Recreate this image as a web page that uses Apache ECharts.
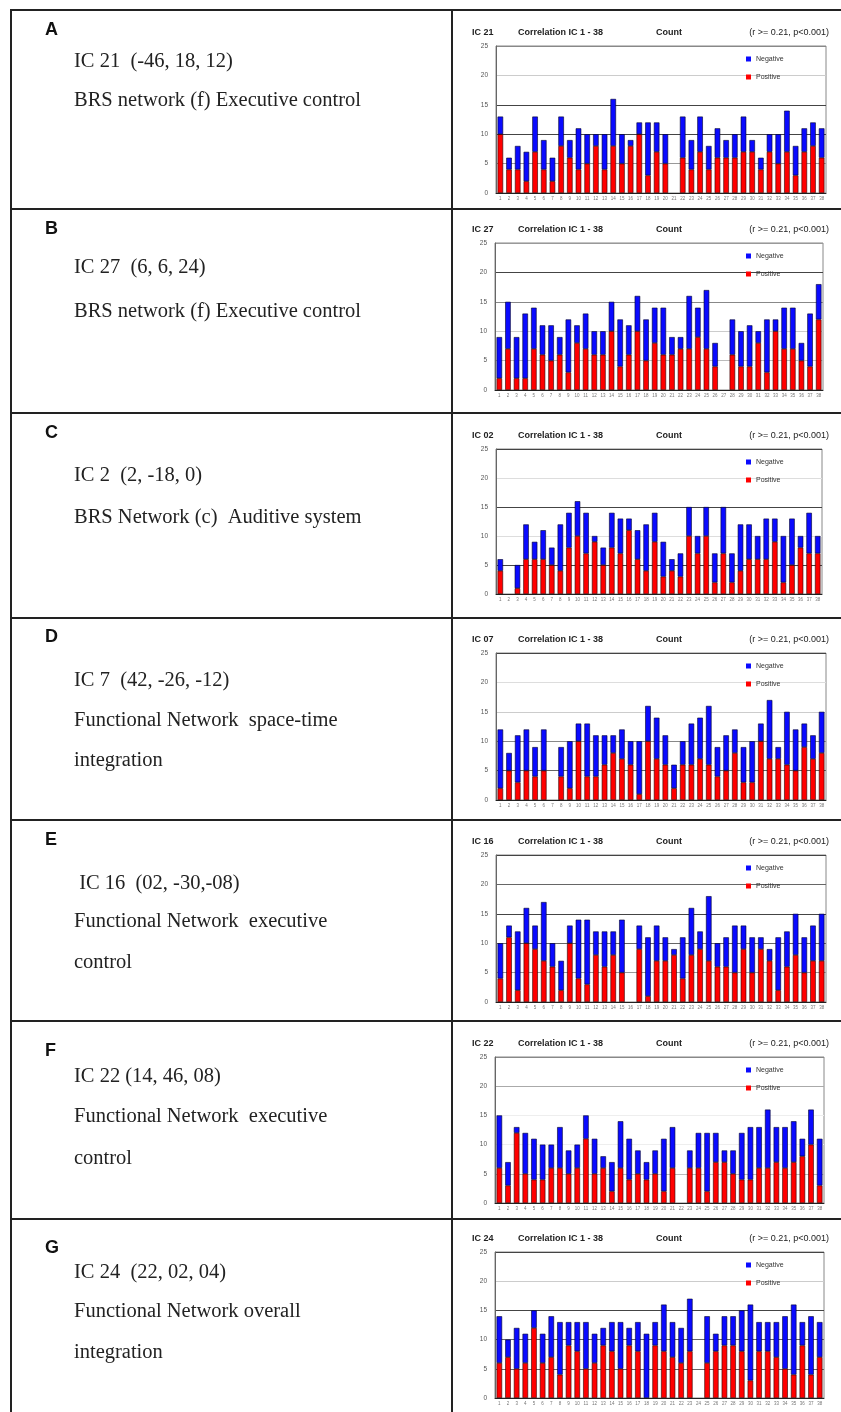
<!DOCTYPE html>
<html><head><meta charset="utf-8">
<script src="https://cdn.jsdelivr.net/npm/echarts@6/dist/echarts.min.js"></script>
<style>html,body{margin:0;padding:0;background:#fff}#c{width:841px;height:1412px}</style>
</head><body><div id="c"></div><script>
// ---------- data ----------
const categories = ['1','2','3','4','5','6','7','8','9','10','11','12','13','14','15','16','17','18','19','20','21','22','23','24','25','26','27','28','29','30','31','32','33','34','35','36','37','38'];
const yTicks = [0, 5, 10, 15, 20, 25];
const panelLetters = ['A','B','C','D','E','F','G'];
const icLabels = ['IC 21','IC 27','IC 02','IC 07','IC 16','IC 22','IC 24'];
const chartTitle = 'Correlation IC 1 - 38';
const countLabel = 'Count';
const thresholdLabel = '(r >= 0.21, p<0.001)';
const legendNames = ['Negative','Positive'];
const panelTexts = [
  ['IC 21  (-46, 18, 12)', 'BRS network (f) Executive control'],
  ['IC 27  (6, 6, 24)', 'BRS network (f) Executive control'],
  ['IC 2  (2, -18, 0)', 'BRS Network (c)  Auditive system'],
  ['IC 7  (42, -26, -12)', 'Functional Network  space-time', 'integration'],
  [' IC 16  (02, -30,-08)', 'Functional Network  executive', 'control'],
  ['IC 22 (14, 46, 08)', 'Functional Network  executive', 'control'],
  ['IC 24  (22, 02, 04)', 'Functional Network overall', 'integration']
];
const posA = [10,4,4,2,7,4,2,8,6,4,5,8,4,8,5,8,10,3,7,5,0,6,4,7,4,6,6,6,7,7,4,7,5,7,3,7,8,6];
const negA = [3,2,4,5,6,5,4,5,3,7,5,2,6,8,5,1,2,9,5,5,0,7,5,6,4,5,3,4,6,2,2,3,5,7,5,4,4,5];
const posB = [2,7,2,2,7,6,5,6,3,8,7,6,6,10,4,6,10,5,8,6,6,7,7,9,7,4,0,6,4,4,8,3,10,7,7,5,4,12];
const negB = [7,8,7,11,7,5,6,3,9,3,6,4,4,5,8,5,6,7,6,8,3,2,9,5,10,4,0,6,6,7,2,9,2,7,7,3,9,6];
const posC = [4,0,1,6,6,6,5,4,8,10,7,9,5,8,7,11,6,4,9,3,4,3,10,7,10,2,7,2,4,6,6,6,9,2,5,8,7,7];
const negC = [2,0,4,6,3,5,3,8,6,6,7,1,3,6,6,2,5,8,5,6,2,4,5,3,5,5,8,5,8,6,4,7,4,8,8,2,7,3];
const posD = [2,5,3,5,4,5,0,4,2,10,4,4,6,8,7,6,1,10,7,6,2,6,6,7,6,4,5,8,3,3,10,7,7,6,5,9,7,8];
const negD = [10,3,8,7,5,7,0,5,8,3,9,7,5,3,5,4,9,6,7,5,4,4,7,7,10,5,6,4,6,7,3,10,2,9,7,4,4,7];
const posE = [4,11,2,10,9,7,6,2,10,4,3,8,6,8,5,0,9,1,7,7,8,4,8,9,7,6,6,5,9,5,9,7,2,6,8,5,7,7];
const negE = [6,2,10,6,4,10,4,5,3,10,11,4,6,4,9,0,4,10,6,4,1,7,8,3,11,4,5,8,4,6,2,2,9,6,7,6,6,8];
const posF = [6,3,12,5,4,4,6,6,5,6,11,5,6,2,6,4,5,4,5,2,6,0,6,6,2,7,7,5,4,4,6,6,7,6,7,8,10,3];
const negF = [9,4,1,7,7,6,4,7,4,4,4,6,2,5,8,7,4,3,4,9,7,0,3,6,10,5,2,4,8,9,7,10,6,7,7,3,6,8];
const posG = [6,7,5,6,12,6,7,4,9,8,5,6,9,8,5,9,8,0,9,8,7,6,8,0,6,8,9,9,8,3,8,8,7,5,4,9,4,7];
const negG = [8,3,7,5,3,5,7,9,4,5,8,5,3,5,8,3,5,11,4,8,6,6,9,0,8,3,5,5,7,13,5,5,6,9,12,4,10,6];

const positives = [posA,posB,posC,posD,posE,posF,posG];
const negatives = [negA,negB,negC,negD,negE,negF,negG];

// ---------- layout ----------
const dividers = [10, 209, 413, 618, 820, 1021, 1219];
const plots = [
  {t:46,  b:193,  l:496, r:826},
  {t:243, b:390,  l:495, r:823},
  {t:449, b:594,  l:496, r:822},
  {t:653, b:800,  l:496, r:826},
  {t:855, b:1002, l:496, r:826},
  {t:1057,b:1203, l:495, r:824},
  {t:1252,b:1398, l:495, r:824}
];
const letterY = [30, 229, 433, 637, 840, 1051, 1248];
const textY = [[62,101],[268,312],[476,518],[681,721,761],[884,922,963],[1077,1117,1159],[1273,1312,1353]];
const splitColors = [
  ['#000','#999','#444','#444','#ccc','#888'],
  ['#000','#bbb','#ccc','#888','#444','#999'],
  ['#000','#444','#ddd','#444','#ddd','#444'],
  ['#000','#666','#888','#ccc','#ddd','#444'],
  ['#000','#999','#666','#444','#666','#444'],
  ['#000','#bbb','#eee','#eee','#aaa','#888'],
  ['#000','#666','#666','#444','#ccc','#444']
];

// empty (zero) bars get no outline so they stay invisible
function barItems(arr) {
  return arr.map(v => v === 0 ? {value: v, itemStyle: {borderWidth: 0}} : v);
}

const grids = [], xAxes = [], yAxes = [], series = [], legends = [], graphics = [];
plots.forEach((p, i) => {
  grids.push({left:p.l, top:p.t, width:p.r-p.l, height:p.b-p.t, show:true, borderColor:'#888', borderWidth:1});
  xAxes.push({type:'category', gridIndex:i, data:categories,
    axisTick:{show:false}, axisLine:{lineStyle:{color:'#222', width:1}},
    axisLabel:{fontSize:4.5, color:'#777', interval:0, margin:3}});
  yAxes.push({type:'value', gridIndex:i, min:yTicks[0], max:yTicks[yTicks.length-1], interval:5,
    axisLine:{show:true, lineStyle:{color:'#666'}}, axisTick:{show:false},
    axisLabel:{fontSize:6.5, color:'#555', margin:8, fontFamily:'Liberation Sans'},
    splitLine:{show:true, lineStyle:{color:splitColors[i], width:1}}});
  series.push({type:'bar', name:'Positive', xAxisIndex:i, yAxisIndex:i, stack:'s'+i, data:barItems(positives[i]),
    barWidth:'64%', itemStyle:{color:'#ff0000', borderColor:'#2a0000', borderWidth:0.6}});
  series.push({type:'bar', name:'Negative', xAxisIndex:i, yAxisIndex:i, stack:'s'+i, data:barItems(negatives[i]),
    barWidth:'64%', itemStyle:{color:'#0a0aff', borderColor:'#00002a', borderWidth:0.6}});
  legends.push({data:legendNames, orient:'vertical', left:746, top:p.t+9.5, itemWidth:5, itemHeight:5,
    itemGap:11, icon:'rect', padding:0, selectedMode:false, itemStyle:{borderWidth:0},
    textStyle:{fontSize:7, color:'#333', fontFamily:'Liberation Sans'}});
  // chart header texts
  const ty = p.t - 13;
  const hdr = [[icLabels[i], 472, 'left', 'bold'], [chartTitle, 518, 'left', 'bold'], [countLabel, 656, 'left', 'bold'], [thresholdLabel, 829, 'right', 'normal']];
  hdr.forEach(h => graphics.push({type:'text', silent:true, style:{text:h[0], x:h[1], y:ty,
    font:h[3] + ' 9px "Liberation Sans"', fill:'#222', align:h[2], textAlign:h[2], verticalAlign:'middle', textVerticalAlign:'middle'}}));
  // left panel texts
  graphics.push({type:'text', silent:true, style:{text:panelLetters[i], x:45, y:letterY[i],
    font:'bold 18px "Liberation Sans"', fill:'#111', align:'left', textAlign:'left', verticalAlign:'middle', textVerticalAlign:'middle'}});
  panelTexts[i].forEach((t, k) => graphics.push({type:'text', silent:true, style:{text:t, x:74, y:textY[i][k],
    font:'20.5px "Liberation Serif"', fill:'#222', align:'left', textAlign:'left', verticalAlign:'middle', textVerticalAlign:'middle'}}));
});
// table lines
dividers.forEach(y => graphics.push({type:'line', silent:true, shape:{x1:10, y1:y, x2:841, y2:y}, style:{stroke:'#222', lineWidth:2}}));
[11, 452].forEach(x => graphics.push({type:'line', silent:true, shape:{x1:x, y1:9, x2:x, y2:1412}, style:{stroke:'#222', lineWidth:2}}));

const chart = echarts.init(document.getElementById('c'), null, {renderer:'canvas'});
chart.setOption({
  animation:false,
  backgroundColor:'#fff',
  grid:grids, xAxis:xAxes, yAxis:yAxes, series:series, legend:legends, graphic:graphics
});
</script></body></html>
